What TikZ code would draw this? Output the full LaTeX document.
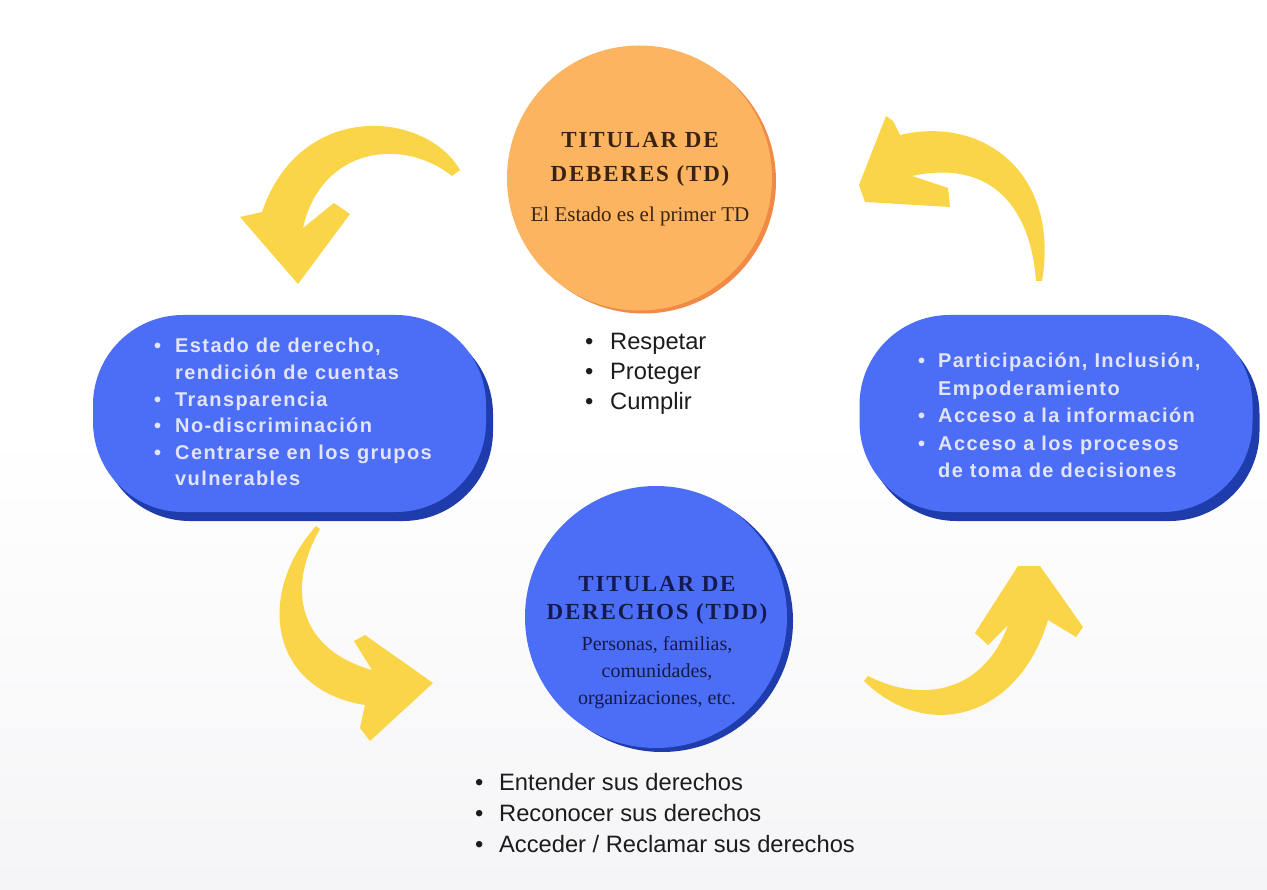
\documentclass[tikz,border=0pt]{standalone}
\usepackage{fontspec}
\setmainfont{Liberation Serif}
\newfontfamily\pillfont[LetterSpace=7]{Liberation Sans Bold}
\newfontfamily\listfont{Liberation Sans}
\newfontfamily\capsfont[LetterSpace=8]{Liberation Serif Bold}
\usetikzlibrary{shadows}

\definecolor{bgbottom}{RGB}{245,245,247}
\definecolor{dutyfill}{RGB}{252,180,96}
\definecolor{dutyshade}{RGB}{240,138,70}
\definecolor{dutytext}{RGB}{58,36,16}
\definecolor{rightsfill}{RGB}{76,110,246}
\definecolor{rightsshade}{RGB}{30,60,172}
\definecolor{rightstext}{RGB}{20,26,78}
\definecolor{pilltext}{RGB}{226,228,248}
\definecolor{arrowyellow}{RGB}{250,213,72}
\definecolor{listtext}{RGB}{28,28,28}

\begin{document}
\begin{tikzpicture}[x=1pt,y=-1pt,
  pill/.style={rectangle, rounded corners=90pt, minimum width=393pt,
    minimum height=197pt, inner sep=0pt, fill=rightsfill,
    general shadow={fill=rightsshade, shadow xshift=7pt, shadow yshift=-9pt}},
  dutycircle/.style={circle, minimum size=265pt, inner sep=0pt, fill=dutyfill,
    general shadow={fill=dutyshade, shadow xshift=4pt, shadow yshift=-3pt}},
  rightscircle/.style={circle, minimum size=262pt, inner sep=0pt, fill=rightsfill,
    general shadow={fill=rightsshade, shadow xshift=6pt, shadow yshift=-4pt}},
  pilltextstyle/.style={anchor=base west, inner sep=0pt, text=pilltext,
    font=\pillfont\fontsize{20}{26.6}\selectfont},
  listtextstyle/.style={anchor=base west, inner sep=0pt, text=listtext},
  bendarrow/.style={fill=arrowyellow, draw=none}
]
% page and background
\useasboundingbox (0,0) rectangle (1267,890);
\fill[white] (0,0) rectangle (1267,890);
\shade[top color=white, bottom color=bgbottom] (0,430) rectangle (1267,890);

% curved brush arrows of the cycle
\fill[bendarrow] (460,170) .. controls (425,110) and (300,100) .. (262,212)
  -- (240,217) -- (298,284) -- (350,214) -- (334,203) -- (303,228)
  .. controls (320,150) and (400,135) .. (452,176) -- cycle;
\fill[bendarrow] (1042,281) .. controls (1060,175) and (985,115) .. (900,135)
  -- (893,121) -- (886,116) -- (859,185) -- (865,202) -- (950,207)
  -- (948,188) -- (912,176)
  .. controls (985,160) and (1030,200) .. (1036,281) -- cycle;
\fill[bendarrow] (316,526) .. controls (255,595) and (270,690) .. (365,705)
  -- (360,728) -- (370,741) -- (433,683) -- (365,635) -- (354,641)
  -- (372,670) .. controls (300,650) and (285,590) .. (320,529) -- cycle;
\fill[bendarrow] (864,681) .. controls (930,745) and (1020,715) .. (1048,620)
  -- (1076,637) -- (1083,627) -- (1040,566) -- (1018,566) -- (975,633)
  -- (988,645) -- (1008,625)
  .. controls (985,690) and (925,705) .. (868,676) -- cycle;

% shapes
\node[pill] (leftpill) at (289.5,413.5) {};
\node[pill] (rightpill) at (1056,413.5) {};
\node[dutycircle] (duty) at (639.5,178) {};
\node[rightscircle] (rights) at (656,617) {};

% duty bearer text
\node[anchor=base, inner sep=0pt, text=dutytext,
  font=\fontsize{23}{33.5}\selectfont] (dutylabel) at (640,148)
  {\begin{tabular}[t]{@{}c@{}}
    {\capsfont TITULAR DE}\\
    {\capsfont DEBERES (TD)}\\[6.5pt]
    {\fontsize{21}{25}\selectfont El Estado es el primer TD}
  \end{tabular}};

% rights holder text
\node[anchor=base, inner sep=0pt, text=rightstext,
  font=\fontsize{23}{28}\selectfont] (rightslabel) at (657,591)
  {\begin{tabular}[t]{@{}c@{}}
    {\capsfont TITULAR DE}\\
    {\capsfont DERECHOS (TDD)}\\[3pt]
    {\fontsize{20}{24}\selectfont Personas, familias,}\\[-1pt]
    {\fontsize{20}{24}\selectfont comunidades,}\\[-1pt]
    {\fontsize{20}{24}\selectfont organizaciones, etc.}
  \end{tabular}};

% principles in the left pill
\node[pilltextstyle] (principles) at (154,353)
  {\begin{tabular}[t]{@{}p{21pt}@{}l@{}}
    \textbullet & Estado de derecho,\\
     & rendición de cuentas\\
    \textbullet & Transparencia\\
    \textbullet & No-discriminación\\
    \textbullet & Centrarse en los grupos\\
     & vulnerables
  \end{tabular}};

% principles in the right pill
\node[pilltextstyle, font=\pillfont\fontsize{20}{27.4}\selectfont] (participation) at (918,368)
  {\begin{tabular}[t]{@{}p{20pt}@{}l@{}}
    \textbullet & Participación, Inclusión,\\
     & Empoderamiento\\
    \textbullet & Acceso a la información\\
    \textbullet & Acceso a los procesos\\
     & de toma de decisiones
  \end{tabular}};

% duties of the duty bearer
\node[listtextstyle, font=\listfont\fontsize{23.7}{30}\selectfont] (duties) at (585,350)
  {\begin{tabular}[t]{@{}p{25pt}@{}l@{}}
    \textbullet & Respetar\\
    \textbullet & Proteger\\
    \textbullet & Cumplir
  \end{tabular}};

% actions of the rights holder
\node[listtextstyle, font=\listfont\fontsize{23.7}{31}\selectfont] (actions) at (475,790)
  {\begin{tabular}[t]{@{}p{24pt}@{}l@{}}
    \textbullet & Entender sus derechos\\
    \textbullet & Reconocer sus derechos\\
    \textbullet & Acceder / Reclamar sus derechos
  \end{tabular}};
\end{tikzpicture}
\end{document}
